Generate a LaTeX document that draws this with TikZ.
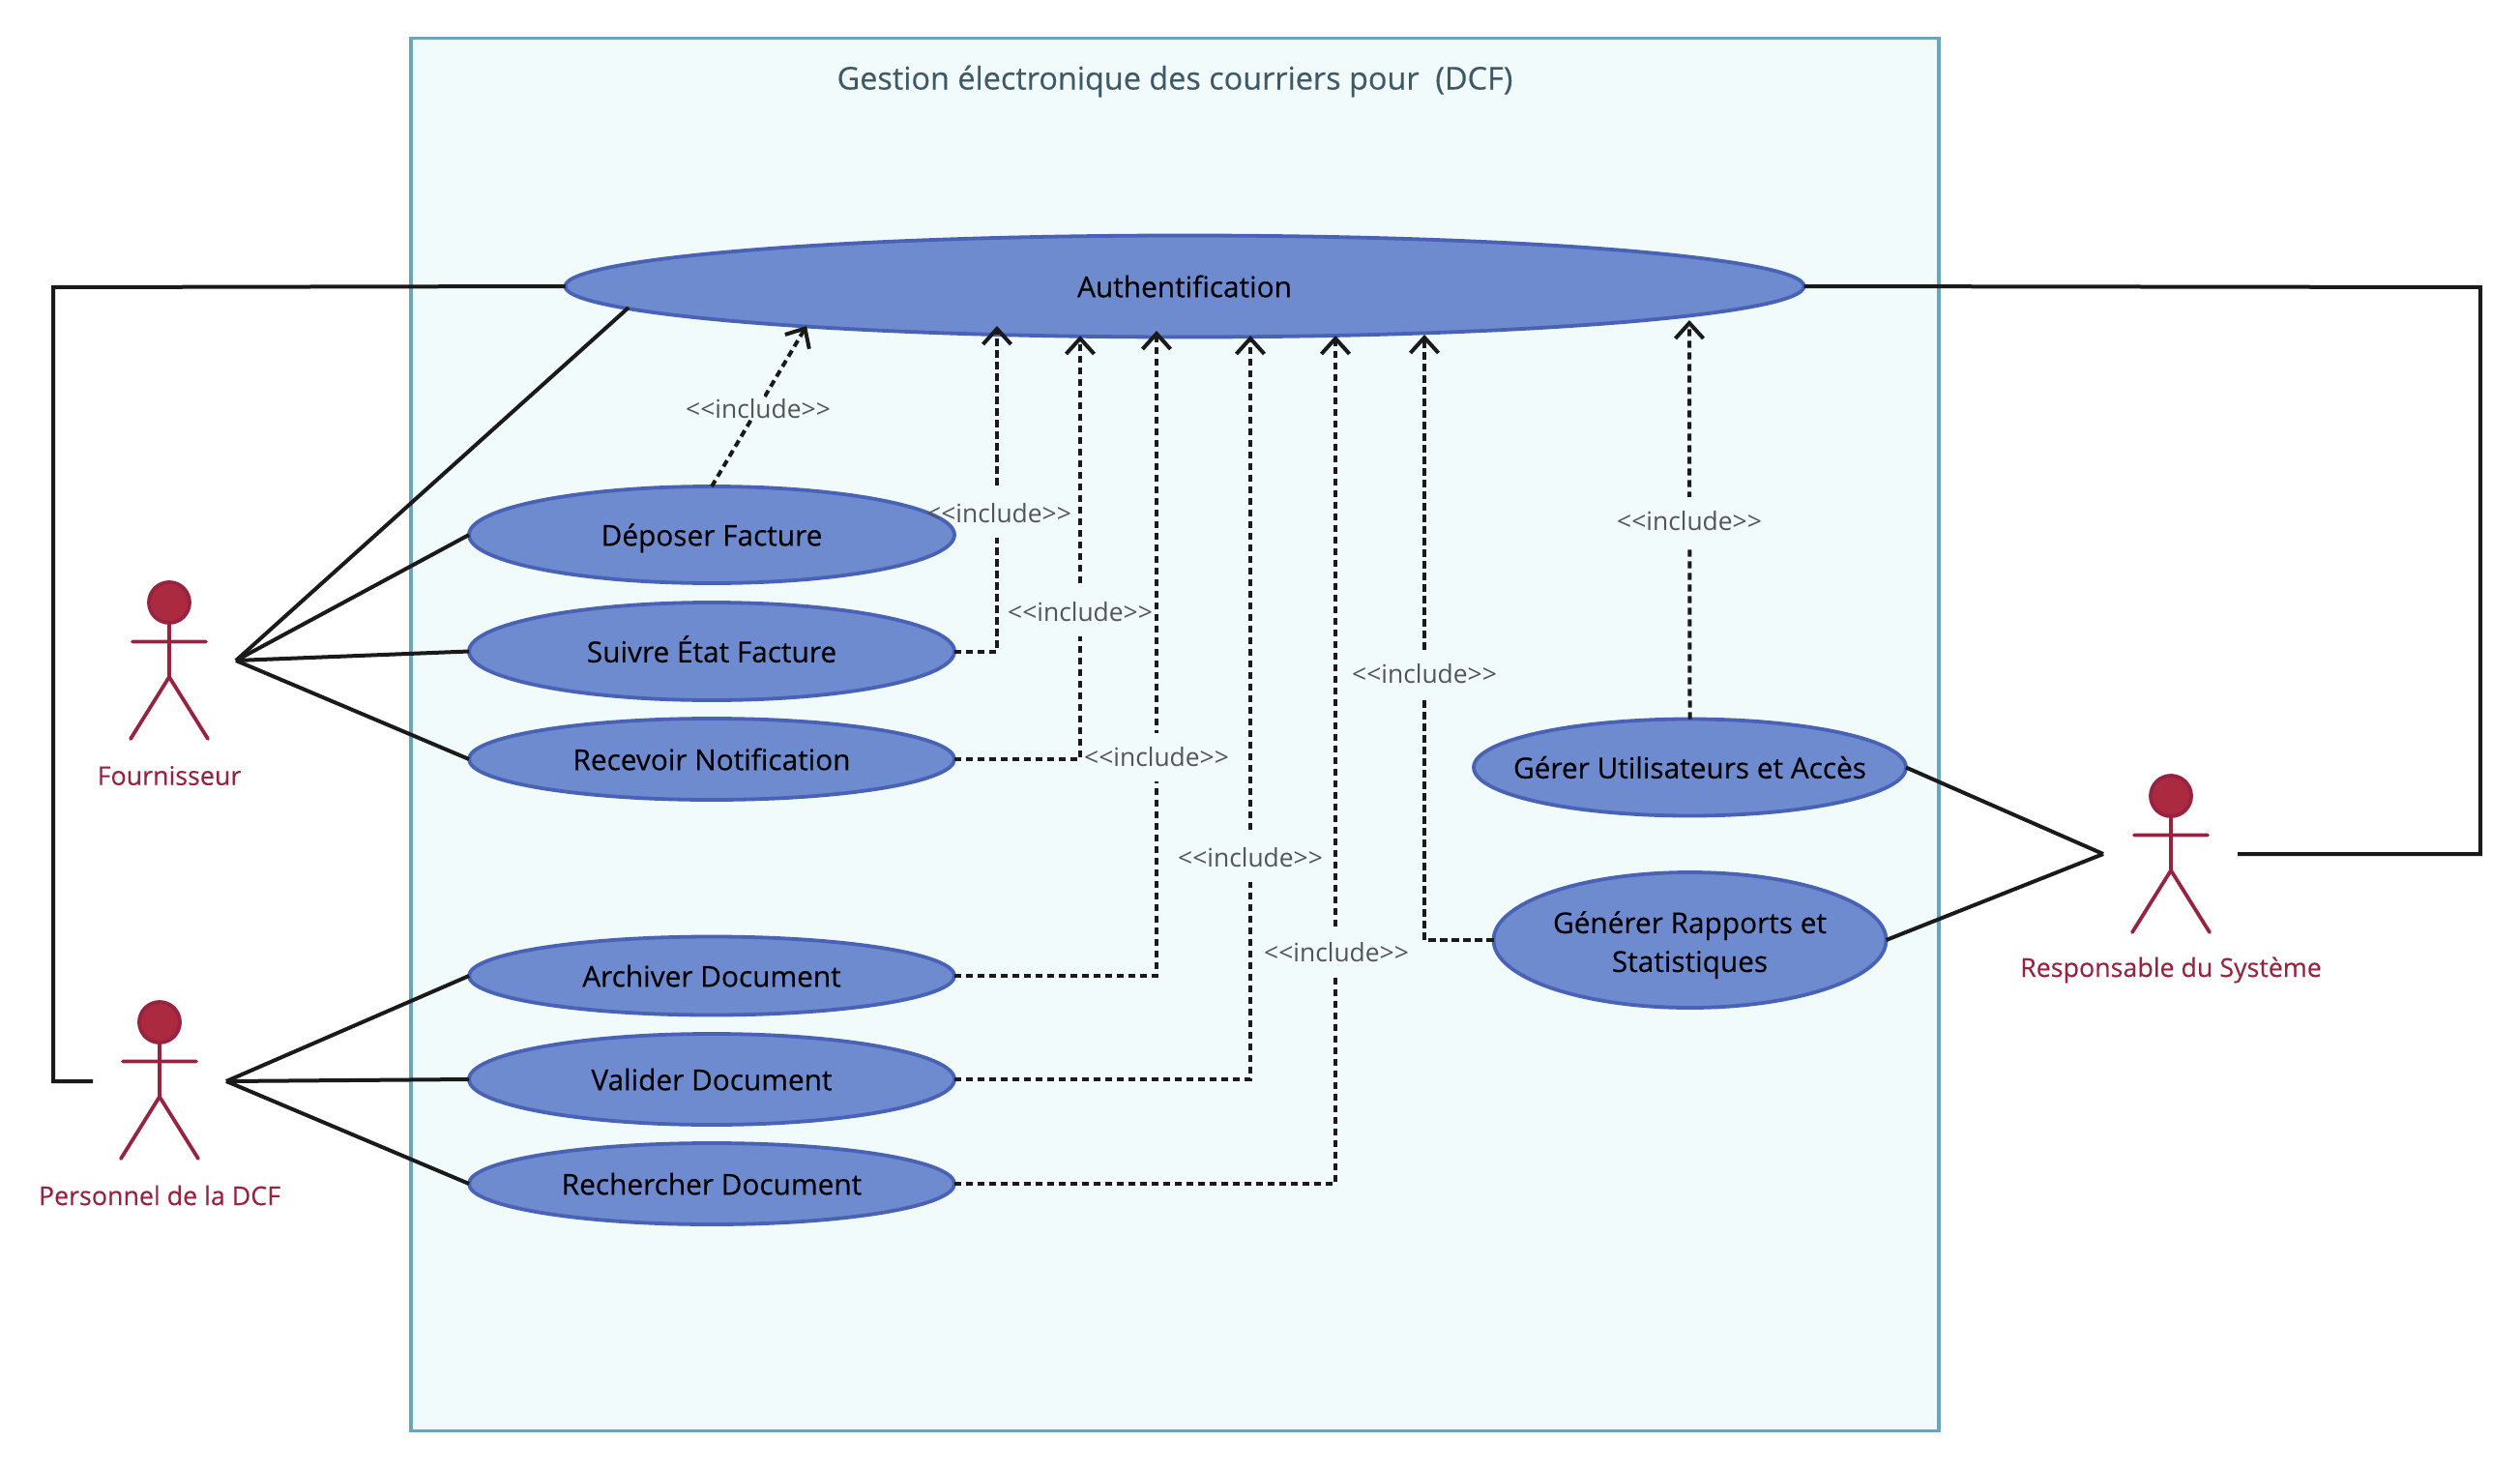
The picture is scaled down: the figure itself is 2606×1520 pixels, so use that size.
\documentclass[tikz,border=0pt]{standalone}
\usepackage{fontspec}
\setmainfont{Open Sans}
\newfontface\casefont{Open Sans}[FakeBold=0.35]
\newfontface\softfont{Open Sans}[FakeBold=0.2]
\usetikzlibrary{shapes.geometric,arrows.meta}

\definecolor{sysfill}{HTML}{F1FBFC}
\definecolor{sysdraw}{HTML}{6BA5BA}
\definecolor{casefill}{HTML}{6E8BCF}
\definecolor{casedraw}{HTML}{4A62B5}
\definecolor{actorfill}{HTML}{AB2A40}
\definecolor{actordraw}{HTML}{962340}
\definecolor{titlecol}{HTML}{3F5966}
\definecolor{inccol}{HTML}{555555}
\definecolor{linecol}{HTML}{1A1A1A}

\newcommand{\inctext}{\makebox[6pt]{<\kern0pt<include>\kern0pt>}}

\tikzset{
  usecase/.style={ellipse, draw=casedraw, fill=casefill, line width=1.9pt, inner sep=0pt, outer sep=0pt, align=center, text=black, font=\casefont\fontsize{14.9}{20}\selectfont},
  onerow/.style={usecase, text height=14pt, text depth=2.7pt},
  actorname/.style={text=actordraw, font=\softfont\fontsize{13.4}{18}\selectfont},
  inclabel/.style={fill=sysfill, text=inccol, inner sep=0pt, minimum height=25pt, font=\fontsize{13.2}{16}\selectfont},
  assocline/.style={draw=linecol, line width=2pt},
  incline/.style={draw=linecol, line width=2pt, dash pattern=on 3.6pt off 2.4pt, -{Straight Barb[length=8pt,width=14.5pt,line width=2pt]}},
  stickman/.pic={
    \draw[actordraw, fill=actorfill, line width=1.9pt] (0,0) circle (21);
    \draw[actordraw, line width=1.9pt, line cap=round] (0,21) -- (0,77) (-38,40.5) -- (38,40.5) (-40,141) -- (0,77) -- (40,141);
  }
}

\begin{document}
\begin{tikzpicture}[x=0.5pt, y=-0.5pt]
  \useasboundingbox (0,0) rectangle (2606,1520);

  % System boundary
  \node[draw=sysdraw, fill=sysfill, line width=1.9pt, minimum width=790pt, minimum height=720pt, inner sep=0pt] (system) at (1215,759.5) {};
  \node[text=titlecol, font=\casefont\fontsize{16.2}{20}\selectfont] (title) at (1215,84) {Gestion électronique des courriers pour~ (DCF)};

  % Use cases
  \node[onerow, minimum width=640.5pt, minimum height=52.5pt] (auth) at (1225,296) {Authentification};
  \node[onerow, minimum width=251pt, minimum height=50pt] (deposer) at (736,553) {Déposer Facture};
  \node[onerow, minimum width=251pt, minimum height=50.5pt] (suivre) at (736,673.5) {Suivre État Facture};
  \node[onerow, minimum width=251pt, minimum height=42pt] (recevoir) at (736,785) {Recevoir Notification};
  \node[onerow, minimum width=251pt, minimum height=40.5pt] (archiver) at (736,1009) {Archiver Document};
  \node[onerow, minimum width=251pt, minimum height=47pt] (valider) at (736,1116) {Valider Document};
  \node[onerow, minimum width=251pt, minimum height=42pt] (rechercher) at (736,1224) {Rechercher Document};
  \node[onerow, minimum width=223.5pt, minimum height=50pt] (gerer) at (1747.5,793.5) {\makebox[100pt]{Gérer Utilisateurs et Accès}};
  \node[usecase, minimum width=203pt, minimum height=70pt] (generer) at (1747.5,972) {\rule{0pt}{16.5pt}Générer Rapports et\\Statistiques};

  % Actors
  \pic at (175,623) {stickman};
  \pic at (165,1057) {stickman};
  \pic at (2245,823) {stickman};
  \node[actorname] (fournisseur) at (175,802) {Fournisseur};
  \node[actorname] (personnel) at (165,1236) {Personnel de la DCF};
  \node[actorname] (responsable) at (2245,1003) {Responsable du Système};

  \coordinate (fourA) at (244,683);
  \coordinate (persA) at (234,1118);
  \coordinate (persB) at (96,1118);
  \coordinate (respA) at (2175,883);
  \coordinate (respB) at (2314,883);
  \coordinate (cornerL) at (55,297);
  \coordinate (cornerR) at (2565,297);
  \coordinate (authLow) at (650,318);

  % Associations
  \draw[assocline] (auth.west) -- (cornerL) |- (persB);
  \draw[assocline] (auth.east) -- (cornerR) |- (respB);
  \foreach \c in {authLow, deposer.west, suivre.west, recevoir.west}
    \draw[assocline] (fourA) -- (\c);
  \foreach \c in {archiver.west, valider.west, rechercher.west}
    \draw[assocline] (persA) -- (\c);
  \foreach \c in {gerer.east, generer.east}
    \draw[assocline] (respA) -- (\c);

  % Includes
  \foreach \n/\x/\y in {Dep/834/337, Sui/1031/337, Rec/1117/347, Arc/1196/342, Val/1293/347, Rch/1381/347, Gen/1473/346, Ger/1747/331}
    \coordinate (tip\n) at (\x,\y);
  \draw[incline] (deposer.north) -- (tipDep);
  \draw[incline] (suivre.east) -| (tipSui);
  \draw[incline] (recevoir.east) -| (tipRec);
  \draw[incline] (archiver.east) -| (tipArc);
  \draw[incline] (valider.east) -| (tipVal);
  \draw[incline] (rechercher.east) -| (tipRch);
  \draw[incline] (generer.west) -| (tipGen);
  \draw[incline] (gerer.north) -- (tipGer);

  \foreach \n/\x/\y in {Dep/784/423, Sui/1033/531, Rec/1117/633, Arc/1196/783, Val/1293/887, Rch/1382/985, Gen/1473/697, Ger/1747/539}
    \node[inclabel] (lbl\n) at (\x,\y) {\inctext};
\end{tikzpicture}
\end{document}
